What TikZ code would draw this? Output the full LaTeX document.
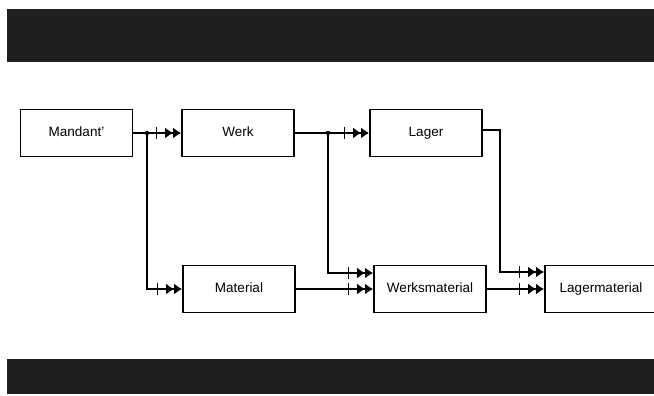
\documentclass[tikz,border=0pt]{standalone}
\usepackage{fontspec}
\setmainfont{Liberation Sans}
\usetikzlibrary{arrows.meta}
\begin{document}
\begin{tikzpicture}[x=1pt,y=-1pt,
  ent/.style={draw, line width=1.7pt, rectangle, minimum width=112pt, minimum height=47pt, inner sep=0pt,
    text height=9.5pt, text depth=3pt, font=\fontsize{13.5}{15}\selectfont},
  rel/.style={line width=2pt, -{Bar[width=12pt,line width=1.6pt,sep=8pt]Latex[length=8pt,width=11pt]Latex[length=8pt,width=11pt]}},
  bar/.style={fill=black!88, draw=none}]
\useasboundingbox (0,0) rectangle (654,396);
% halftone bars
\fill[bar] (7,9) rectangle (654,62);
\fill[bar] (7,359) rectangle (654,394);
% entities
\node[ent] (mandant) at (76.5,133) {Mandant'};
\node[ent] (werk) at (238,133) {Werk};
\node[ent] (lager) at (426,133) {Lager};
\node[ent] (material) at (239,289) {Material};
\node[ent] (werksmat) at (430,289) {Werksmaterial};
\node[ent] (lagermat) at (601,289) {Lagermaterial};
% junctions
\coordinate (j1) at (147,133);
\coordinate (j2) at (328,133);
\coordinate (c1) at (500,130);
% relationships
\draw[rel] (mandant.east) -- (werk.west);
\draw[rel] (j1) |- (material.west);
\draw[rel] (werk.east) -- (lager.west);
\draw[rel] (j2) |- ([yshift=16pt]werksmat.west);
\draw[rel] (material.east) -- (werksmat.west);
\draw[rel] (lager.east |- c1) -- (c1) |- ([yshift=17pt]lagermat.west);
\draw[rel] (werksmat.east) -- (lagermat.west);
\fill (j1) circle (2.2pt);
\fill (j2) circle (2.2pt);
\end{tikzpicture}
\end{document}
